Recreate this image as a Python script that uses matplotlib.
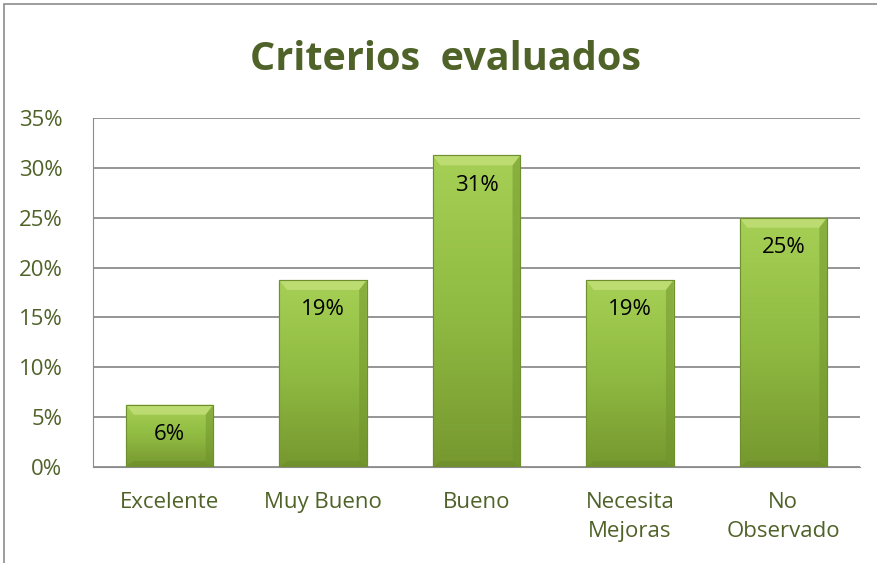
import matplotlib
matplotlib.use("Agg")
import matplotlib.pyplot as plt
import numpy as np
from matplotlib.patches import Rectangle, Polygon
from matplotlib.colors import LinearSegmentedColormap

categories = ["Excelente", "Muy Bueno", "Bueno", "Necesita\nMejoras", "No\nObservado"]
values = [6.25, 18.75, 31.25, 18.75, 25.0]
labels = ["6%", "19%", "31%", "19%", "25%"]
yticks = [0, 5, 10, 15, 20, 25, 30, 35]
title = "Criterios  evaluados"

olive = "#4f6228"
W, H = 877, 563
fig = plt.figure(figsize=(W / 100, H / 100), dpi=100)
fig.patches.append(Rectangle((4 / W, -0.05), 1.1, 1 - 4 / H + 0.05, transform=fig.transFigure,
                             fill=False, edgecolor="#8c8c8c", linewidth=1.2))
ax = fig.add_axes([93 / W, 1 - 467 / H, (860 - 93) / W, (467 - 118) / H])

x = np.arange(len(categories))
bw = 0.57
ax.set_xlim(-0.5, len(categories) - 0.5)
ax.set_ylim(0, 35)

cmap = LinearSegmentedColormap.from_list("g", ["#76982f", "#90bb42", "#a6d055"])
grad = np.linspace(0, 1, 256).reshape(-1, 1)
bars = ax.bar(x, values, width=bw, color="#92bf44", edgecolor="#6f8f2e", linewidth=0.8, zorder=3)
for b, v, lab in zip(bars, values, labels):
    x0, w = b.get_x(), b.get_width()
    im = ax.imshow(grad, extent=[x0, x0 + w, 0, v], origin="lower", aspect="auto", cmap=cmap, zorder=3.1)
    im.set_clip_path(b)
    dx, dy = 0.05, 1.0
    ax.add_patch(Polygon([[x0, v], [x0 + w, v], [x0 + w - dx, v - dy], [x0 + dx, v - dy]],
                         closed=True, facecolor="#c3e07a", edgecolor="none", alpha=0.8, zorder=3.2))
    ax.add_patch(Polygon([[x0, 0], [x0 + w, 0], [x0 + w - dx, dy * 0.6], [x0 + dx, dy * 0.6]],
                         closed=True, facecolor="#6a8a2a", edgecolor="none", alpha=0.5, zorder=3.2))
    ax.add_patch(Polygon([[x0 + w, 0], [x0 + w, v], [x0 + w - dx, v - dy], [x0 + w - dx, dy * 0.6]],
                         closed=True, facecolor="#6f922c", edgecolor="none", alpha=0.5, zorder=3.2))
    ax.add_patch(Rectangle((x0, 0), w, v, fill=False, edgecolor="#6f8f2e", linewidth=0.8, zorder=3.3))
    ax.text(b.get_x() + w / 2, v - 3.0, lab, ha="center", va="center", fontsize=16,
            family="Open Sans", color="black", zorder=4)

ax.set_yticks(yticks)
ax.set_yticklabels([f"{t}%" for t in yticks], fontsize=16, family="Open Sans", color=olive)
ax.set_xticks(x)
ax.set_xticklabels(categories, fontsize=16, family="Open Sans", color=olive, linespacing=1.5)
ax.tick_params(axis="y", length=0, pad=22)
ax.tick_params(axis="x", length=0, pad=18)
ax.yaxis.grid(True, color="#8c8c8c", linewidth=1.3, zorder=0)
ax.set_axisbelow(True)
for s in ["top", "right"]:
    ax.spines[s].set_visible(False)
ax.spines["left"].set_color("#8c8c8c")
ax.spines["bottom"].set_color("#8c8c8c")

fig.text(445 / W, 1 - 60 / H, title, ha="center", va="center", fontsize=28.5, fontweight="bold",
         family="Open Sans", color=olive)

fig.savefig("out.png", dpi=100)
